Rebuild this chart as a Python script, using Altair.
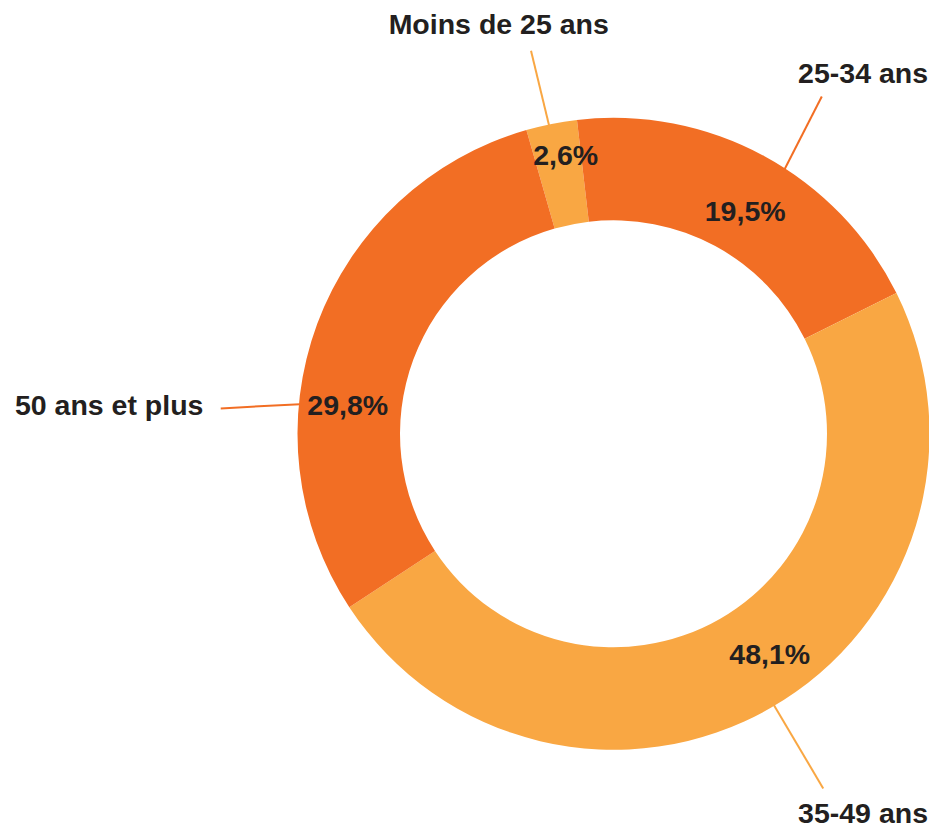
import math
import altair as alt
import pandas as pd

# ---- data -------------------------------------------------------------
categories = ["Moins de 25 ans", "25-34 ans", "35-49 ans", "50 ans et plus"]
values = [2.6, 19.5, 48.1, 29.8]
slice_colors = ["#F9A743", "#F26E24", "#F9A743", "#F26E24"]

# ---- layout -----------------------------------------------------------
W, H = 921, 822
CX, CY = 605.5, 425.8
R_OUT, R_IN = 316, 213.5
START = math.radians(-16.0)
FONT = "Liberation Sans"
TXT = "#231F20"
FS = 28.5

# polar placements (degrees clockwise from 12 o'clock, radius in px)
pct_pos = {
    "Moins de 25 ans": (-9.75, 282.3),
    "25-34 ans": (30.65, 258.3),
    "35-49 ans": (144.76, 270.7),
    "50 ans et plus": (276.06, 267.3),
}
name_pos = {
    "Moins de 25 ans": (-15.67, 425.0, "center"),
    "25-34 ans": (41.15, 478.0, "right"),
    "35-49 ans": (140.44, 493.8, "right"),
    "50 ans et plus": (272.69, 599.2, "left"),
}
leader = {
    "Moins de 25 ans": (-11.8, 315.0, -12.15, 391.9),
    "25-34 ans": (32.9, 315.0, 31.7, 396.4),
    "35-49 ans": (149.4, 315.0, 149.4, 412.0),
    "50 ans et plus": (275.4, 315.0, 273.7, 393.6),
}


def polar(deg, r):
    a = math.radians(deg)
    return CX + r * math.sin(a), CY - r * math.cos(a)


df = pd.DataFrame({
    "category": categories,
    "value": values,
    "idx": list(range(len(categories))),
})
df["pct"] = [f"{v:.1f}".replace(".", ",") + "%" for v in values]
df["pang"] = [math.radians(pct_pos[c][0]) for c in categories]
df["pr"] = [pct_pos[c][1] for c in categories]
df["nang"] = [math.radians(name_pos[c][0]) for c in categories]
df["nr"] = [name_pos[c][1] for c in categories]
df["x1"] = [polar(leader[c][0], leader[c][1])[0] for c in categories]
df["y1"] = [polar(leader[c][0], leader[c][1])[1] for c in categories]
df["x2"] = [polar(leader[c][2], leader[c][3])[0] for c in categories]
df["y2"] = [polar(leader[c][2], leader[c][3])[1] for c in categories]

color = alt.Color("category:N", scale=alt.Scale(domain=categories, range=slice_colors), legend=None)

base = alt.Chart(df)

arcs = base.mark_arc(x=CX, y=CY, outerRadius=R_OUT, innerRadius=R_IN).encode(
    theta=alt.Theta("value:Q", stack=True,
                    scale=alt.Scale(range=[START, START + 2 * math.pi])),
    order=alt.Order("idx:Q"),
    color=color,
)

lines = base.mark_rule(strokeWidth=2).encode(
    x=alt.X("x1:Q", scale=None),
    y=alt.Y("y1:Q", scale=None),
    x2="x2:Q",
    y2="y2:Q",
    color=color,
)

pct_text = base.mark_text(
    x=CX, y=CY, font=FONT, fontSize=FS, fontWeight="bold", color=TXT,
    align="center", baseline="middle",
).encode(
    theta=alt.Theta("pang:Q", scale=None, stack=False),
    radius=alt.Radius("pr:Q", scale=None),
    text="pct:N",
)

name_layers = []
for align in ["center", "right", "left"]:
    sub = [c for c in categories if name_pos[c][2] == align]
    name_layers.append(
        base.transform_filter(alt.FieldOneOfPredicate(field="category", oneOf=sub))
        .mark_text(x=CX, y=CY, font=FONT, fontSize=FS, fontWeight="bold", color=TXT,
                   align=align, baseline="middle")
        .encode(
            theta=alt.Theta("nang:Q", scale=None, stack=False),
            radius=alt.Radius("nr:Q", scale=None),
            text="category:N",
        )
    )

chart = alt.layer(arcs, lines, pct_text, *name_layers).properties(
    width=W, height=H, padding=0, autosize=alt.AutoSizeParams(type="none"),
).configure_view(stroke=None)

chart.save("out.html", embed_options={"renderer": "svg", "actions": False})
